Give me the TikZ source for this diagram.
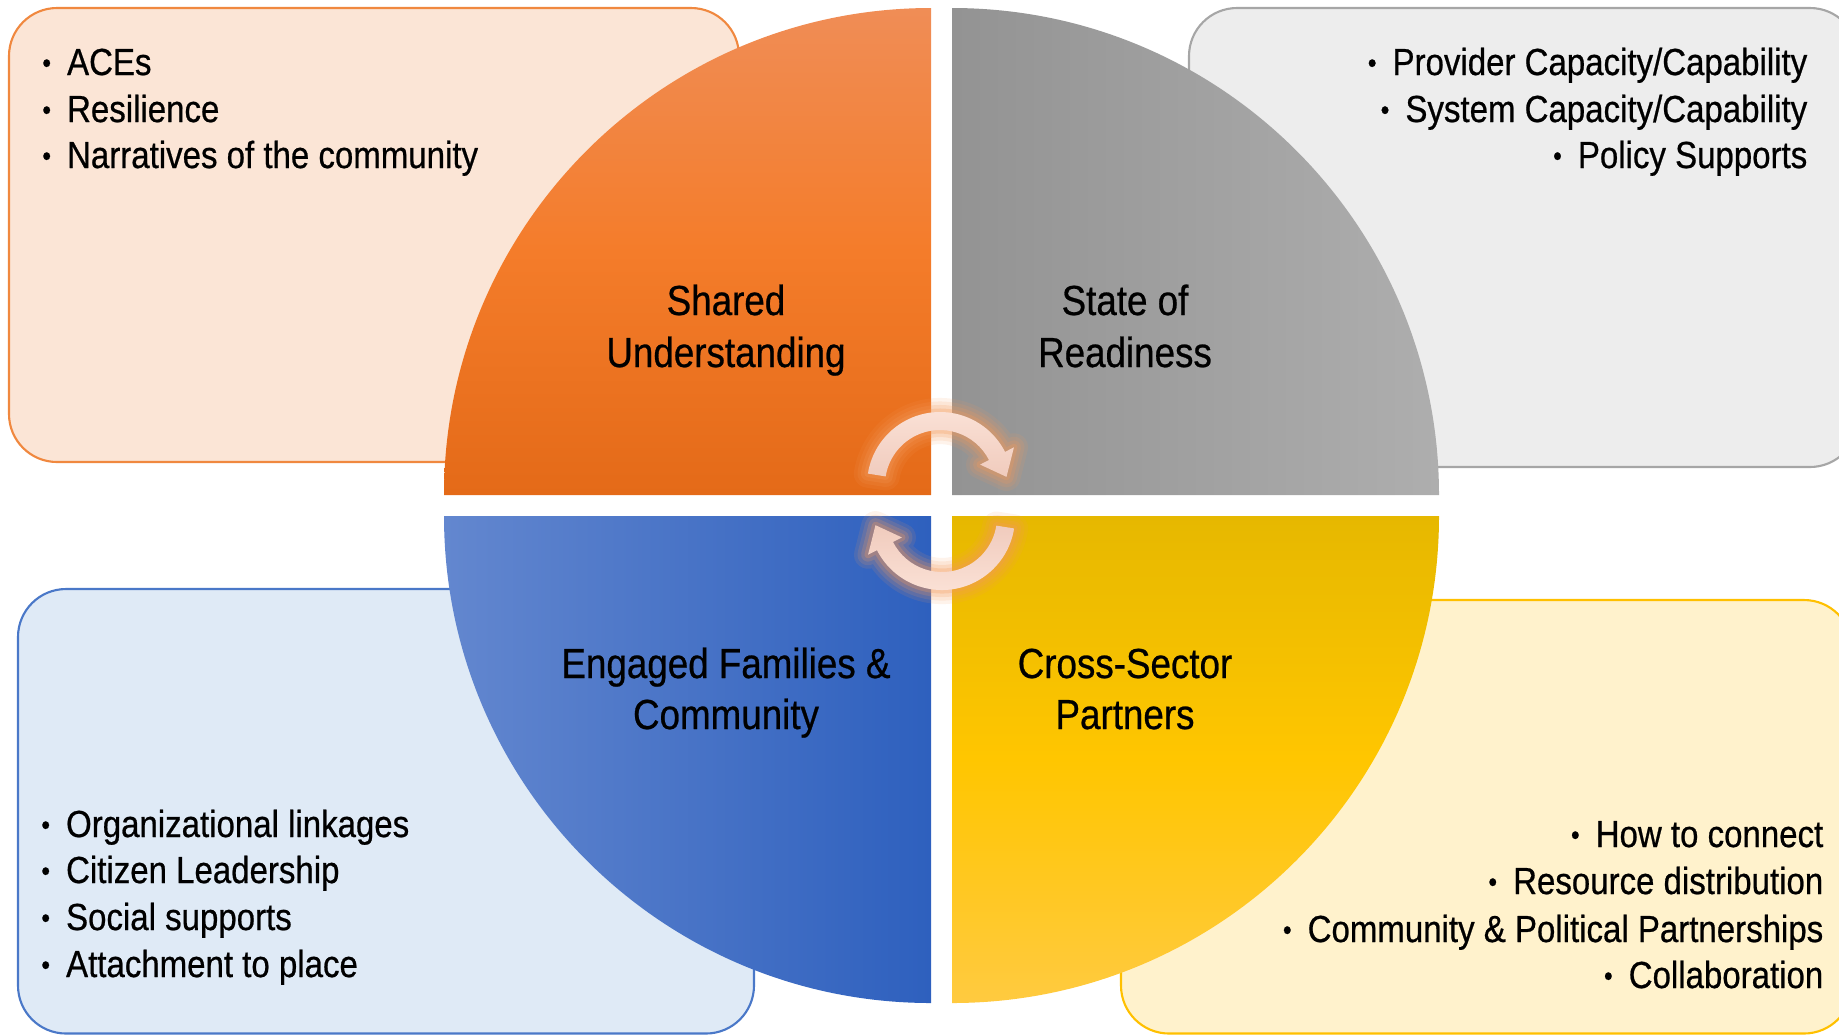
\documentclass[tikz,border=0pt]{standalone}
\usepackage{fontspec}
\setmainfont{Liberation Sans}[FakeStretch=0.875,FakeBold=0.6]
\usepackage{graphicx}
\usetikzlibrary{calc}

\definecolor{peachbox}{HTML}{FBE5D6}
\definecolor{peachline}{HTML}{F0883F}
\definecolor{graybox}{HTML}{EDEDED}
\definecolor{grayline}{HTML}{A6A6A6}
\definecolor{bluebox}{HTML}{DFEAF6}
\definecolor{blueline}{HTML}{4A78C8}
\definecolor{yelbox}{HTML}{FFF2CC}
\definecolor{yelline}{HTML}{FFC000}
\definecolor{orTop}{HTML}{F08D56}
\definecolor{orMid}{HTML}{F47C2A}
\definecolor{orBot}{HTML}{E46A18}
\definecolor{grL}{HTML}{939393}
\definecolor{grR}{HTML}{AEAEAE}
\definecolor{blL}{HTML}{6387CF}
\definecolor{blR}{HTML}{2E60BE}
\definecolor{yeTop}{HTML}{E6B800}
\definecolor{yeMid}{HTML}{FFC600}
\definecolor{yeBot}{HTML}{FFCA40}
\definecolor{glowc}{HTML}{F39A5C}
\definecolor{arrA}{HTML}{FBE2D7}
\definecolor{arrB}{HTML}{F0CBBD}

\newcommand\bul{\makebox[0pt]{\raisebox{0.7pt}{\scalebox{0.75}{•}}}\hspace{5.8pt}}

\def\arrowA{($(940,-485)+(171:73)$) arc[start angle=171,end angle=27,radius=73] -- ($(940,-485)+(27:83)$) -- ($(940,-485)+(7:67)$) -- ($(940,-485)+(27:45)$) -- ($(940,-485)+(27:55)$) arc[start angle=27,end angle=171,radius=55] -- cycle}
\def\arrowB{($(942,-517)+(-9:73)$) arc[start angle=-9,end angle=-153,radius=73] -- ($(942,-517)+(-153:83)$) -- ($(942,-517)+(-173:67)$) -- ($(942,-517)+(-153:45)$) -- ($(942,-517)+(-153:55)$) arc[start angle=-153,end angle=-9,radius=55] -- cycle}

\begin{document}
\begin{tikzpicture}[x=0.01cm,y=0.01cm,
  boxst/.style={rounded corners=0.48cm, line width=0.6pt},
  titlest/.style={inner sep=0pt, anchor=base, font=\fontsize{11.95}{14.5}\selectfont},
  iteml/.style={inner sep=0pt, anchor=base west, font=\fontsize{10.73}{13.3}\selectfont},
  itemr/.style={inner sep=0pt, anchor=base east, font=\fontsize{10.73}{13.3}\selectfont},
  glowst/.style={draw=glowc, line join=round}]
\path[use as bounding box] (0,0) rectangle (1839,-1035);
\clip (0,0) rectangle (1839,-1035);

% side boxes
\draw[boxst, fill=peachbox, draw=peachline] (9,-8) rectangle (739,-462);
\draw[boxst, fill=graybox, draw=grayline] (1189,-8) rectangle (1858,-467);
\draw[boxst, fill=bluebox, draw=blueline] (18,-589) rectangle (754,-1033.5);
\draw[boxst, fill=yelbox, draw=yelline] (1121,-600) rectangle (1852,-1033.5);

% quadrants
\shade[top color=orTop, bottom color=orBot, middle color=orMid]
  (931,-495) -- (444,-495) arc[start angle=180, end angle=90, radius=487] -- cycle;
\shade[left color=grL, right color=grR]
  (952,-495) -- (952,-8) arc[start angle=90, end angle=0, radius=487] -- cycle;
\shade[left color=blL, right color=blR]
  (931,-516) -- (444,-516) arc[start angle=180, end angle=270, radius=487] -- cycle;
\shade[top color=yeTop, bottom color=yeBot, middle color=yeMid]
  (952,-516) -- (1439,-516) arc[start angle=0, end angle=-90, radius=487] -- cycle;

% cycle arrows with glow
\foreach \w/\o in {8pt/0.12, 6pt/0.15, 4pt/0.2, 2pt/0.28}{
  \draw[glowst, line width=\w, opacity=\o] \arrowA;
  \draw[glowst, line width=\w, opacity=\o] \arrowB;
}
\shade[top color=arrA, bottom color=arrB] \arrowA;
\shade[top color=arrB, bottom color=arrA] \arrowB;

% quadrant titles
\node[titlest] (t1a) at (726,-315) {Shared};
\node[titlest] (t1b) at (726,-367) {Understanding};
\node[titlest] (t2a) at (1125,-315) {State of};
\node[titlest] (t2b) at (1125,-367) {Readiness};
\node[titlest] (t3a) at (726,-678) {Engaged Families \&};
\node[titlest] (t3b) at (726,-729) {Community};
\node[titlest] (t4a) at (1125,-678) {Cross-Sector};
\node[titlest] (t4b) at (1125,-729) {Partners};

% lists
\node[iteml] (a1) at (46,-75) {\bul ACEs};
\node[iteml] (a2) at (46,-122) {\bul Resilience};
\node[iteml] (a3) at (46,-168) {\bul Narratives of the community};

\node[itemr] (b1) at (1808,-75) {\bul Provider Capacity/Capability};
\node[itemr] (b2) at (1808,-122) {\bul System Capacity/Capability};
\node[itemr] (b3) at (1808,-168) {\bul Policy Supports};

\node[iteml] (c1) at (45,-837) {\bul Organizational linkages};
\node[iteml] (c2) at (45,-883) {\bul Citizen Leadership};
\node[iteml] (c3) at (45,-930) {\bul Social supports};
\node[iteml] (c4) at (45,-977) {\bul Attachment to place};

\node[itemr] (d1) at (1824,-847) {\bul How to connect};
\node[itemr] (d2) at (1824,-894) {\bul Resource distribution};
\node[itemr] (d3) at (1824,-942) {\bul Community \& Political Partnerships};
\node[itemr] (d4) at (1824,-988) {\bul Collaboration};
\end{tikzpicture}
\end{document}
